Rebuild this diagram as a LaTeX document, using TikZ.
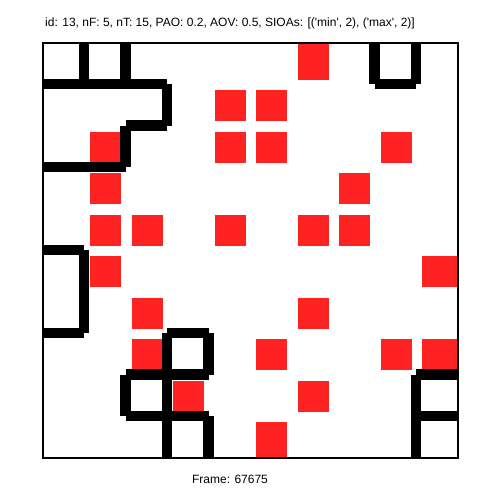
\documentclass[tikz,border=0pt]{standalone}
\usepackage{fontspec}
\newfontfamily\plotfont{Liberation Sans}
\usepackage{tikz}
\definecolor{cellred}{RGB}{255,34,34}
\tikzset{
  wall/.style={line width=10.5pt, line cap=butt, black},
  redbox/.style={fill=cellred},
  caption/.style={anchor=base, inner sep=0pt, font=\plotfont\fontsize{12}{14}\selectfont},
}
\newcommand{\redcell}[2]{\fill[redbox] (#1+0.14,#2+0.14) rectangle (#1+0.89,#2+0.89);}

\begin{document}
\begin{tikzpicture}[x=1pt,y=-1pt]
  \fill[white] (0,0) rectangle (502,502);
  \node[caption] (title) at (230,26.7) {id: 13, nF: 5, nT: 15, PAO: 0.2, AOV: 0.5, SIOAs: [('min', 2), ('max', 2)]};
  \node[caption] (framelabel) at (230,483) {Frame: 67675};
  \begin{scope}[shift={(42.7pt,-42.7pt)}, x=41.5pt, y=-41.5pt]
    % red cells
    \redcell{4}{1} \redcell{5}{1}
    \redcell{1}{2} \redcell{4}{2} \redcell{5}{2} \redcell{8}{2}
    \redcell{1}{3} \redcell{7}{3}
    \redcell{1}{4} \redcell{2}{4} \redcell{4}{4} \redcell{6}{4} \redcell{7}{4}
    \redcell{1}{5}
    \redcell{2}{6} \redcell{6}{6}
    \redcell{2}{7} \redcell{5}{7} \redcell{8}{7}
    \redcell{3}{8} \redcell{6}{8}
    % cells on the border run up to it
    \fill[redbox] (6.14,0) rectangle (6.89,0.89);
    \fill[redbox] (5.14,9.14) rectangle (5.89,10);
    \fill[redbox] (9.14,5.14) rectangle (10,5.89);
    \fill[redbox] (9.14,7.14) rectangle (10,7.89);
    % walls, top left
    \draw[wall] (1,0) -- (1,1);
    \draw[wall] (2,0) -- (2,1);
    \draw[wall] (0,1) -- (3,1);
    \draw[wall] (3,1) -- (3,2);
    \draw[wall] (3,2) -- (2,2);
    \draw[wall] (2,2) -- (2,3);
    \draw[wall] (2,3) -- (0,3);
    % left
    \draw[wall] (0,5) -- (1,5);
    \draw[wall] (1,5) -- (1,7);
    \draw[wall] (1,7) -- (0,7);
    % bottom
    \draw[wall] (3,7) -- (4,7);
    \draw[wall] (3,7) -- (3,10);
    \draw[wall] (4,7) -- (4,8);
    \draw[wall] (2,8) -- (4,8);
    \draw[wall] (2,8) -- (2,9);
    \draw[wall] (2,9) -- (4,9);
    \draw[wall] (4,9) -- (4,10);
    % bottom right
    \draw[wall] (9,8) -- (10,8);
    \draw[wall] (9,8) -- (9,10);
    \draw[wall] (9,9) -- (10,9);
    % top right
    \draw[wall] (8,0) -- (8,1);
    \draw[wall] (8,1) -- (9,1);
    \draw[wall] (9,1) -- (9,0);
    % frame
    \draw[line width=2pt] (0,0) rectangle (10,10);
  \end{scope}
\end{tikzpicture}
\end{document}
